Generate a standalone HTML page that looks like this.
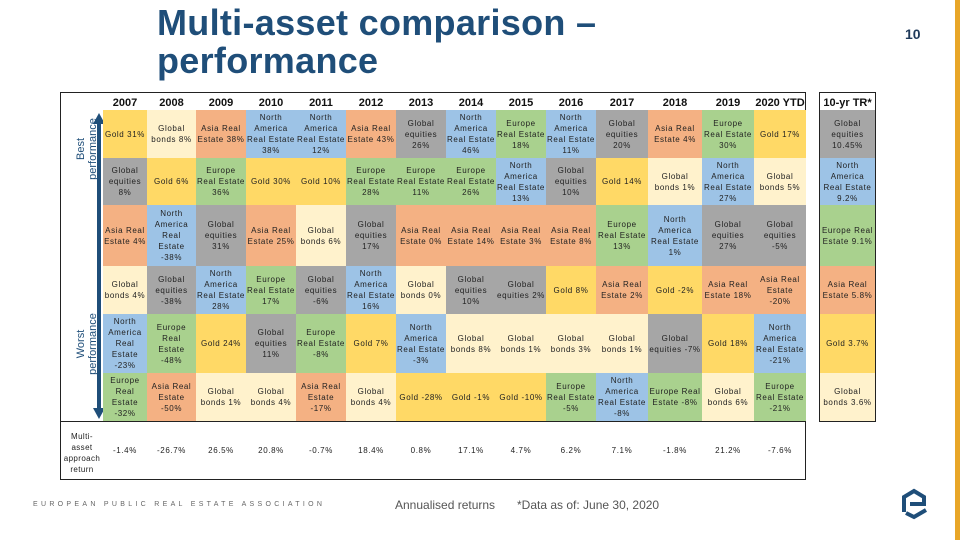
<!DOCTYPE html>
<html><head><meta charset="utf-8">
<style>
body{margin:0;width:960px;height:540px;overflow:hidden;background:#fff;position:relative;font-family:"Liberation Sans",sans-serif}
.cell{position:absolute;display:flex;align-items:center;justify-content:center;text-align:center;font-size:8px;letter-spacing:0.6px;line-height:11px;color:#222;box-sizing:border-box;padding:0 1px}
.yr{position:absolute;font-weight:bold;font-size:11px;text-align:center;top:97px;color:#111}
.ret{position:absolute;font-size:8px;letter-spacing:0.6px;text-align:center;top:446px;color:#222}
</style></head><body>
<div style="position:absolute;left:157px;top:4px;font-size:36px;font-weight:bold;color:#1F4E79;line-height:38px;letter-spacing:0.3px">Multi-asset comparison –<br>performance</div>
<div style="position:absolute;left:905px;top:26px;font-size:14px;font-weight:bold;color:#1F3A5A">10</div>
<div style="position:absolute;left:955px;top:0;width:5px;height:540px;background:#E8A628"></div>
<div style="position:absolute;left:60px;top:92px;width:746px;height:388px;border:1px solid #222;box-sizing:border-box"></div>
<div style="position:absolute;left:60px;top:421px;width:746px;height:1px;background:#222"></div>
<div style="position:absolute;left:819px;top:92px;width:57px;height:330px;border:1px solid #222;box-sizing:border-box"></div>
<svg style="position:absolute;left:0;top:0" width="120" height="430">
<line x1="99" y1="122" x2="99" y2="410" stroke="#1F4E79" stroke-width="4"/>
<polygon points="93,124 105,124 99,113" fill="#1F4E79"/>
<polygon points="93,408 105,408 99,419" fill="#1F4E79"/>
</svg>
<div style="position:absolute;left:47px;top:137px;width:80px;transform:rotate(-90deg);transform-origin:center;font-size:11px;line-height:12px;color:#1F4E79;text-align:center">Best<br>performance</div>
<div style="position:absolute;left:47px;top:332px;width:80px;transform:rotate(-90deg);transform-origin:center;font-size:11px;line-height:12px;color:#1F4E79;text-align:center">Worst<br>performance</div>
<div style="position:absolute;left:60px;top:431px;width:44px;font-size:8px;line-height:11px;text-align:center;letter-spacing:0.4px;color:#222">Multi-<br>asset<br>approach<br>return</div>
<div style="position:absolute;left:33px;top:501px;font-size:7px;letter-spacing:3.3px;color:#666">EUROPEAN PUBLIC REAL ESTATE ASSOCIATION</div>
<div style="position:absolute;left:395px;top:498px;font-size:12px;color:#555">Annualised returns</div>
<div style="position:absolute;left:517px;top:498px;font-size:12px;color:#555">*Data as of: June 30, 2020</div>
<svg style="position:absolute;left:898px;top:486px" width="34" height="36" viewBox="0 0 34 36">
<path d="M6 26 L6 11 L16 5 L26 11 L26 18 L12 18" fill="none" stroke="#1F4E79" stroke-width="4"/>
<path d="M28 24 L16 31 L8 27" fill="none" stroke="#1F4E79" stroke-width="4"/>
</svg>
<div id="grid"></div>
<script>
const years=["2007","2008","2009","2010","2011","2012","2013","2014","2015","2016","2017","2018","2019","2020 YTD"];
const assetNames={G:"Gold",B:"Global bonds",A:"Asia Real Estate",N:"North America Real Estate",E:"Europe Real Estate",Q:"Global equities"};
const colors={G:"#FFD966",B:"#FFF2CC",A:"#F4B183",N:"#9DC3E6",E:"#A9D18E",Q:"#A6A6A6"};
const rankAssets=[
["G","Q","A","B","N","E"],["B","G","N","Q","E","A"],["A","E","Q","N","G","B"],["N","G","A","E","Q","B"],
["N","G","B","Q","E","A"],["A","E","Q","N","G","B"],["Q","E","A","B","N","G"],["N","E","A","Q","B","G"],
["E","N","A","Q","B","G"],["N","Q","A","G","B","E"],["Q","G","E","A","B","N"],["A","B","N","G","Q","E"],
["E","N","Q","A","G","B"],["G","B","Q","A","N","E"]];
const rankValues=[
[31,8,4,4,-23,-32],[8,6,-38,-38,-48,-50],[38,36,31,28,24,1],[38,30,25,17,11,4],
[12,10,6,-6,-8,-17],[43,28,17,16,7,4],[26,11,0,0,-3,-28],[46,26,14,10,8,-1],
[18,13,3,2,1,-10],[11,10,8,8,3,-5],[20,14,13,2,1,-8],[4,1,1,-2,-7,-8],
[30,27,27,18,18,6],[17,5,-5,-20,-21,-21]];
const tenYrAssets=["Q","N","E","A","G","B"];
const tenYrValues=[10.45,9.2,9.1,5.8,3.7,3.6];
const multiAssetReturns=[-1.4,-26.7,26.5,20.8,-0.7,18.4,0.8,17.1,4.7,6.2,7.1,-1.8,21.2,-7.6];

const colEdges=[103,147,196,246,296,346,396,446,496,546,596,648,702,754,806];
const rowEdges=[110,158,205,266,314,373,421];
const grid=document.getElementById('grid');
function fmt(v,dec){return (dec?v.toFixed(v%1===0?1:(String(v).split('.')[1]||'').length):String(v))+'%';}
function mk(x,y,w,h,key,val,dec){
  const d=document.createElement('div');
  d.className='cell';
  d.style.left=x+'px';d.style.top=y+'px';d.style.width=w+'px';d.style.height=h+'px';
  d.style.background=colors[key];
  d.textContent=assetNames[key]+' '+fmt(val,dec);
  return d;
}
years.forEach((yr,c)=>{
  const x=colEdges[c],w=colEdges[c+1]-colEdges[c];
  const h=document.createElement('div');
  h.className='yr';h.style.left=x+'px';h.style.width=w+'px';h.textContent=yr;
  
  
  grid.appendChild(h);
  rankAssets[c].forEach((k,r)=>{
    const d=mk(x,rowEdges[r],w,rowEdges[r+1]-rowEdges[r],k,rankValues[c][r],false);
    
    
    grid.appendChild(d);
  });
  const rt=document.createElement('div');
  rt.className='ret';rt.style.left=x+'px';rt.style.width=w+'px';
  rt.textContent=multiAssetReturns[c].toFixed(1)+'%';
  
  
  grid.appendChild(rt);
});
const th=document.createElement('div');
th.className='yr';th.style.left='819px';th.style.width='57px';th.textContent='10-yr TR*';


grid.appendChild(th);
tenYrAssets.forEach((k,r)=>{
  const d=mk(820,rowEdges[r],55,rowEdges[r+1]-rowEdges[r],k,tenYrValues[r],true);
  
  
  grid.appendChild(d);
});
</script>
</body></html>
